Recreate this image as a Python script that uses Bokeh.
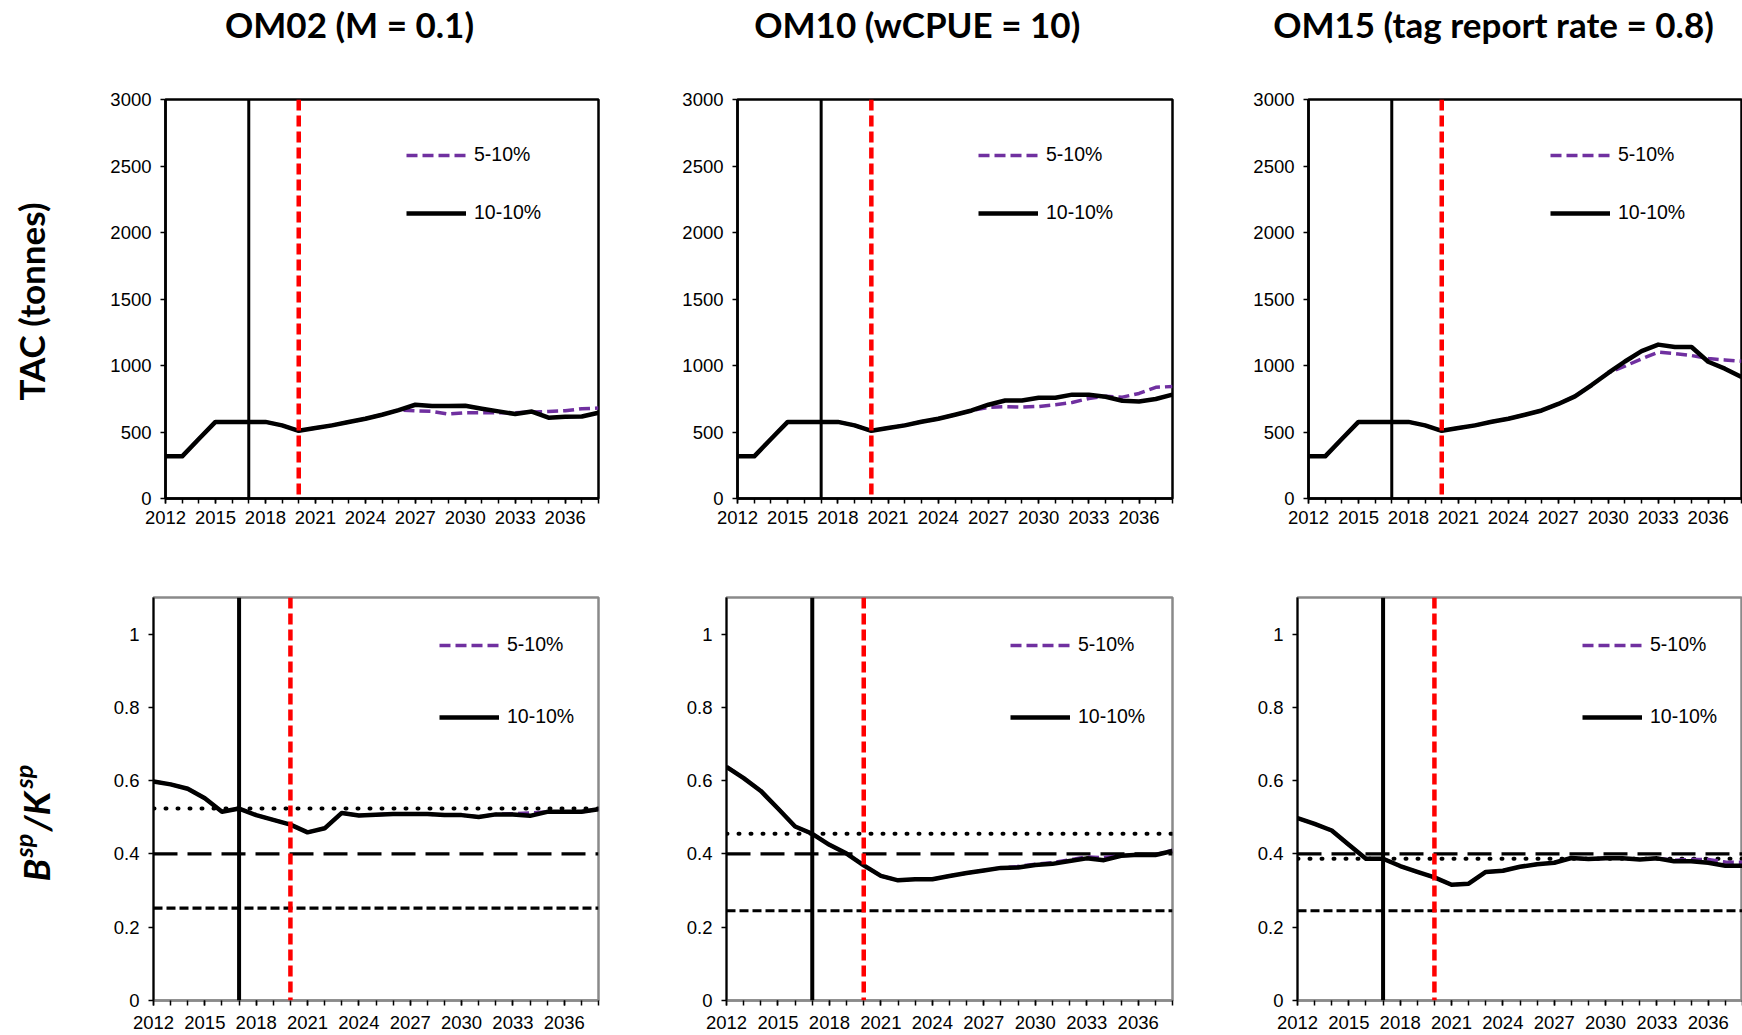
import math
from bokeh.plotting import figure
from bokeh.layouts import column, row
from bokeh.models import (Range1d, FixedTicker, Span, Legend, LegendItem,
                          CustomJSTickFormatter)
from bokeh.core.properties import value
from bokeh.embed import file_html
from bokeh.resources import INLINE

# ---------------- data ----------------
years = list(range(2012, 2039))
year_labels = list(range(2012, 2039, 3))
titles = ["OM02 (M = 0.1)", "OM10  (wCPUE = 10)", "OM15 (tag report rate = 0.8)"]
series_names = ["5-10%", "10-10%"]

tac_ticks = [0, 500, 1000, 1500, 2000, 2500, 3000]
bk_ticks = [0, 0.2, 0.4, 0.6, 0.8, 1.0]

# TAC (tonnes)
tac_om02_5_10 = [317, 317, 447, 576, 576, 576, 576, 550, 509, 530, 550, 575, 600, 630, 665,
                 660, 655, 635, 645, 645, 645, 645, 650, 655, 660, 675, 680]
tac_om02_10_10 = [317, 317, 447, 576, 576, 576, 576, 550, 509, 530, 550, 575, 600, 630, 665,
                  705, 695, 695, 697, 675, 655, 635, 654, 608, 615, 617, 645]
tac_om10_5_10 = [317, 317, 447, 576, 576, 576, 576, 550, 509, 530, 550, 577, 600, 630, 662,
                 685, 690, 688, 692, 705, 722, 752, 768, 762, 790, 836, 842]
tac_om10_10_10 = [317, 317, 447, 576, 576, 576, 576, 550, 509, 530, 550, 577, 600, 630, 662,
                  705, 737, 737, 758, 758, 781, 780, 765, 735, 729, 748, 781]
tac_om15_5_10 = [317, 317, 447, 576, 576, 576, 576, 550, 509, 530, 550, 577, 600, 630, 662,
                 711, 768, 853, 944, 995, 1050, 1100, 1090, 1075, 1052, 1042, 1032]
tac_om15_10_10 = [317, 317, 447, 576, 576, 576, 576, 550, 509, 530, 550, 577, 600, 630, 662,
                  711, 768, 853, 944, 1030, 1108, 1157, 1139, 1139, 1028, 976, 914]

# Bsp/Ksp
bk_om02_5_10 = [0.598, 0.590, 0.578, 0.552, 0.515, 0.524, 0.506, 0.493, 0.480, 0.459, 0.470,
                0.512, 0.505, 0.507, 0.509, 0.509, 0.509, 0.506, 0.506, 0.501, 0.508, 0.510,
                0.512, 0.515, 0.515, 0.515, 0.522]
bk_om02_10_10 = [0.598, 0.590, 0.578, 0.552, 0.515, 0.524, 0.506, 0.493, 0.480, 0.459, 0.470,
                 0.512, 0.505, 0.507, 0.509, 0.509, 0.509, 0.506, 0.506, 0.501, 0.508, 0.508,
                 0.504, 0.515, 0.515, 0.515, 0.522]
bk_om10_5_10 = [0.638, 0.607, 0.572, 0.524, 0.475, 0.455, 0.425, 0.401, 0.369, 0.340, 0.328,
                0.331, 0.331, 0.340, 0.348, 0.355, 0.362, 0.366, 0.372, 0.376, 0.384, 0.392,
                0.390, 0.395, 0.397, 0.398, 0.410]
bk_om10_10_10 = [0.638, 0.607, 0.572, 0.524, 0.475, 0.455, 0.425, 0.401, 0.369, 0.340, 0.328,
                 0.331, 0.331, 0.340, 0.348, 0.355, 0.362, 0.363, 0.370, 0.373, 0.381, 0.388,
                 0.383, 0.395, 0.398, 0.397, 0.408]
bk_om15_5_10 = [0.498, 0.482, 0.464, 0.425, 0.387, 0.387, 0.367, 0.351, 0.336, 0.316, 0.319,
                0.351, 0.354, 0.365, 0.372, 0.376, 0.389, 0.386, 0.388, 0.388, 0.385, 0.388,
                0.383, 0.385, 0.385, 0.378, 0.377]
bk_om15_10_10 = [0.498, 0.482, 0.464, 0.425, 0.387, 0.387, 0.367, 0.351, 0.336, 0.316, 0.319,
                 0.351, 0.354, 0.365, 0.372, 0.376, 0.389, 0.386, 0.388, 0.388, 0.385, 0.388,
                 0.380, 0.380, 0.376, 0.368, 0.368]

# reference levels
vline_years = [2017, 2020]
bk_target = [0.524, 0.455, 0.387]     # dotted
bk_limit = [0.4, 0.4, 0.4]            # long dash
bk_trigger = [0.252, 0.245, 0.245]    # short dash

tac_series = [(tac_om02_5_10, tac_om02_10_10), (tac_om10_5_10, tac_om10_10_10),
              (tac_om15_5_10, tac_om15_10_10)]
bk_series = [(bk_om02_5_10, bk_om02_10_10), (bk_om10_5_10, bk_om10_10_10),
             (bk_om15_5_10, bk_om15_10_10)]

PURPLE = "#7030A0"
TICK_FONT = "Liberation Sans"

# ---------------- layout geometry ----------------
TOP_H = 70
STRIP_W = 70
# (border_left, frame_w, border_right)
top_geom = [(95, 433, 62), (77, 435, 28), (108, 433, 1)]
bot_geom = [(83, 445, 52), (76, 446, 28), (97, 445, 0)]
top_v = (29, 399, 62)
bot_v = (37, 403, 35)
top_leg = [(241, 274), (241, 274), (242, 274)]
bot_leg = [(286, 272), (284, 272), (285, 272)]


def make_panel(geom, vgeom, yr, yticks, s5, s10, top, leg_loc, hlines=None):
    bl, fw, br = geom
    bt, fh, bb = vgeom
    p = figure(frame_width=fw, frame_height=fh, min_border_left=bl, min_border_right=br,
               min_border_top=bt, min_border_bottom=bb,
               x_range=Range1d(2012, 2038), y_range=Range1d(*yr),
               output_backend="svg", toolbar_location=None, tools="")
    p.xgrid.visible = False
    p.ygrid.visible = False
    p.background_fill_color = "white"
    p.border_fill_color = "white"
    p.xaxis.ticker = FixedTicker(ticks=year_labels, minor_ticks=years)
    p.yaxis.ticker = FixedTicker(ticks=yticks)
    if not top:
        p.yaxis.formatter = CustomJSTickFormatter(code="return tick.toString()")
    for ax in (p.xaxis[0], p.yaxis[0]):
        ax.major_label_text_font = TICK_FONT
        ax.major_label_text_font_size = "18.5px"
        ax.major_label_text_color = "black"
        ax.major_tick_in = 0
        ax.major_tick_out = 5
        ax.minor_tick_in = 0
        ax.minor_tick_out = 5
        ax.major_tick_line_color = "black"
        ax.minor_tick_line_color = "black"
        ax.major_tick_line_width = 1.5
        ax.minor_tick_line_width = 1.5
    p.yaxis.minor_tick_out = 0
    p.yaxis.major_label_standoff = 9
    if top:
        p.outline_line_color = "black"
        p.outline_line_width = 2.5
        p.xaxis.axis_line_color = "black"
        p.yaxis.axis_line_color = "black"
        p.xaxis.axis_line_width = 2.5
        p.yaxis.axis_line_width = 2.5
        p.xaxis.major_label_standoff = 7
    else:
        p.outline_line_color = "#8a8a8a"
        p.outline_line_width = 2.5
        p.xaxis.axis_line_color = "#8a8a8a"
        p.xaxis.axis_line_width = 2.5
        p.yaxis.axis_line_color = "black"
        p.yaxis.axis_line_width = 2
        p.xaxis.major_label_standoff = 10

    if hlines is not None:
        tgt, lim, trg = hlines
        p.add_layout(Span(location=tgt, dimension="width", line_color="black",
                          line_width=4, line_dash="1 11", line_cap="round", level="underlay"))
        p.add_layout(Span(location=lim, dimension="width", line_color="black",
                          line_width=3.2, line_dash="24 10", level="underlay"))
        p.add_layout(Span(location=trg, dimension="width", line_color="black",
                          line_width=3.2, line_dash="9 4", level="underlay"))

    r5 = p.line(years, s5, line_color=PURPLE, line_width=3.5, line_dash="11 5")
    r10 = p.line(years, s10, line_color="black", line_width=4.5, line_join="round")

    p.add_layout(Span(location=vline_years[0], dimension="height", line_color="black",
                      line_width=3 if top else 4))
    p.add_layout(Span(location=vline_years[1], dimension="height", line_color="red",
                      line_width=4.5, line_dash="11 5"))

    legend = Legend(items=[LegendItem(label=series_names[0], renderers=[r5]),
                           LegendItem(label=series_names[1], renderers=[r10])],
                    location=leg_loc, orientation="vertical",
                    spacing=35 if top else 49, padding=0, margin=0,
                    glyph_width=60, glyph_height=20, label_height=20, label_standoff=8,
                    label_text_font=TICK_FONT, label_text_font_size="19.5px",
                    label_text_color="black",
                    background_fill_alpha=0, border_line_alpha=0)
    p.add_layout(legend)
    return p


def strip(w, h):
    s = figure(frame_width=w, frame_height=h, x_range=Range1d(0, w), y_range=Range1d(h, 0),
               min_border=0, x_axis_type=None, y_axis_type=None,
               output_backend="svg", toolbar_location=None, tools="")
    s.outline_line_color = None
    s.background_fill_color = "white"
    s.border_fill_color = "white"
    return s


# title strip
title_fig = strip(1742, TOP_H)
title_fig.text(x=[349, 921, 1493], y=[23, 23, 23], text=titles,
               text_font=value("Lato"), text_font_style="bold", text_font_size="35px",
               text_align="center", text_baseline="middle", text_color="black")

# left strips
top_h = sum(top_v)
bot_h = sum(bot_v)
left_top = strip(STRIP_W, top_h)
left_top.text(x=[30], y=[202], text=["TAC (tonnes)"], angle=math.pi / 2,
              text_font=value("Lato"), text_font_style="bold", text_font_size="35px",
              text_align="center", text_baseline="middle", text_color="black")

left_bot = strip(STRIP_W, bot_h)
big, small = "37px", "25px"
bx, sx = 35, 22
left_bot.text(x=[bx], y=[284], text=["B"], angle=math.pi / 2, text_font=value("Lato"),
              text_font_style="bold italic", text_font_size=big,
              text_align="left", text_baseline="alphabetic")
left_bot.text(x=[sx], y=[260], text=["sp"], angle=math.pi / 2, text_font=value("Lato"),
              text_font_style="bold italic", text_font_size=small,
              text_align="left", text_baseline="alphabetic")
left_bot.text(x=[bx], y=[234], text=[" /K"], angle=math.pi / 2, text_font=value("Lato"),
              text_font_style="bold italic", text_font_size=big,
              text_align="left", text_baseline="alphabetic")
left_bot.text(x=[sx], y=[191], text=["sp"], angle=math.pi / 2, text_font=value("Lato"),
              text_font_style="bold italic", text_font_size=small,
              text_align="left", text_baseline="alphabetic")

top_panels = [make_panel(top_geom[i], top_v, (0, 3000), tac_ticks, tac_series[i][0],
                         tac_series[i][1], True, top_leg[i]) for i in range(3)]
bot_panels = [make_panel(bot_geom[i], bot_v, (0, 1.1), bk_ticks, bk_series[i][0],
                         bk_series[i][1], False, bot_leg[i],
                         hlines=(bk_target[i], bk_limit[i], bk_trigger[i])) for i in range(3)]

layout = column(title_fig, row(left_top, *top_panels), row(left_bot, *bot_panels), spacing=0)

open("out.html", "w").write(file_html(layout, INLINE))
